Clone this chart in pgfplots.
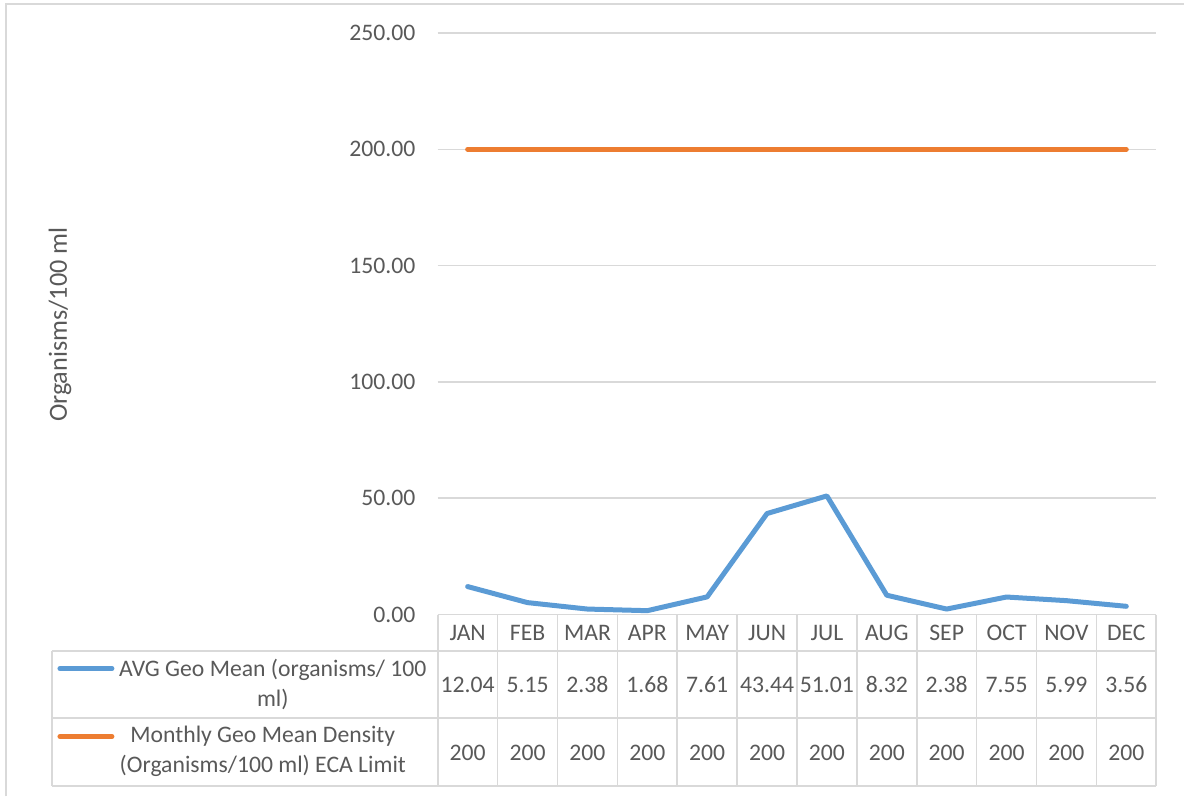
\documentclass[border=0pt]{standalone}
\usepackage{fontspec}
\setmainfont{Carlito}
\usepackage{pgfplots}
\pgfplotsset{compat=1.18}
\definecolor{blueline}{HTML}{5B9BD5}
\definecolor{orangeline}{HTML}{ED7D31}
\definecolor{gridgray}{HTML}{D9D9D9}
\definecolor{textgray}{HTML}{595959}

\begin{document}
\begin{tikzpicture}[font=\fontsize{11.85pt}{15pt}\selectfont, text=textgray]
\begin{axis}[
  scale only axis,
  width=359.5pt, height=291pt,
  xmin=0.5, xmax=12.5, ymin=0, ymax=250,
  xtick=\empty,
  ytick={0,50,...,250},
  ymajorgrids,
  grid style={gridgray, line width=0.8pt},
  axis line style={draw=none},
  major tick length=0pt,
  yticklabel style={
    /pgf/number format/.cd, fixed, fixed zerofill, precision=2,
    assume math mode=true, /tikz/.cd,
    xshift=-7.6pt, text=textgray},
]
\addplot[blueline, line width=2.5pt, line cap=round, line join=round] coordinates {
(1,12.04)(2,5.15)(3,2.38)(4,1.68)(5,7.61)(6,43.44)
(7,51.01)(8,8.32)(9,2.38)(10,7.55)(11,5.99)(12,3.56)
};
\addplot[orangeline, line width=2.5pt, line cap=round, line join=round] coordinates {
(1,200)(2,200)(3,200)(4,200)(5,200)(6,200)
(7,200)(8,200)(9,200)(10,200)(11,200)(12,200)
};
\end{axis}

% data table under the plot, in pixel units of the reference
\begin{scope}[x=0.5pt, y=-0.5pt, shift={(-438,-615)}]
  \draw[gridgray, line width=0.8pt] (6,797) -- (6,4) -- (1185,4);
  \foreach \k in {0,...,12}
    \draw[gridgray, line width=0.8pt] (438+59.917*\k,615) -- (438+59.917*\k,786.5);
  \draw[gridgray, line width=0.8pt] (438,615) -- (1157,615);
  \foreach \yy in {651.5,718.5,786.5}
    \draw[gridgray, line width=0.8pt] (52,\yy) -- (1157,\yy);
  \draw[gridgray, line width=0.8pt] (52,651.5) -- (52,786.5);

  \draw[blueline, line width=2.5pt, line cap=round] (60,669) -- (112,669);
  \draw[orangeline, line width=2.5pt, line cap=round] (60,737) -- (112,737);

  \node[align=center] at (273,685) {AVG Geo Mean (organisms/ 100\\ml)};
  \node[align=center] at (263,752) {Monthly Geo Mean Density\\(Organisms/100 ml) ECA Limit};

  \foreach \m [count=\i from 0] in {JAN,FEB,MAR,APR,MAY,JUN,JUL,AUG,SEP,OCT,NOV,DEC}
    \node at (468+59.917*\i,633) {\m};
  \foreach \v [count=\i from 0] in {12.04,5.15,2.38,1.68,7.61,43.44,51.01,8.32,2.38,7.55,5.99,3.56}
    \node at (468+59.917*\i,685) {\v};
  \foreach \i in {0,...,11}
    \node at (468+59.917*\i,753) {200};

  \node[rotate=90, font=\fontsize{13.1pt}{15pt}\selectfont] at (60,325) {Organisms/100 ml};

  \useasboundingbox (0,0) rectangle (1185,797);
\end{scope}
\end{tikzpicture}
\end{document}
